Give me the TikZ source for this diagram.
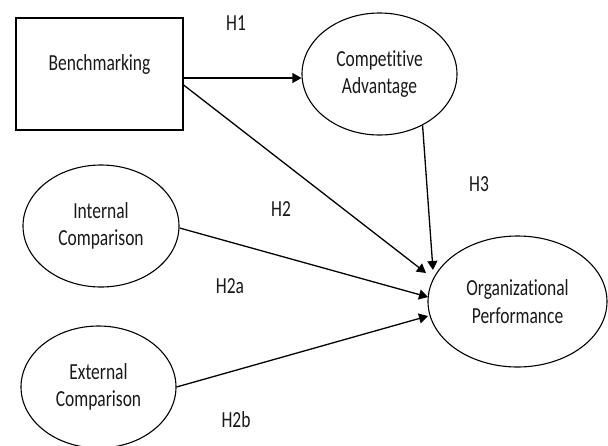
\documentclass[tikz,border=0pt]{standalone}
\usepackage{fontspec}
\setmainfont[FakeStretch=0.76,Ligatures={NoCommon}]{Carlito}
\usetikzlibrary{shapes.geometric,arrows.meta}
\begin{document}
\begin{tikzpicture}[x=1pt,y=-1pt,
  every node/.style={font=\fontsize{23pt}{27.5pt}\selectfont, text=black!90},
  box/.style={draw, line width=1.2pt, rectangle, minimum width=167pt, minimum height=112pt, inner sep=0pt},
  oval/.style={draw, line width=1.1pt, ellipse, inner sep=0pt, align=center},
  arr/.style={line width=1.3pt, -{Triangle[length=9pt,width=10pt]}},
  lbl/.style={inner sep=0pt}]
\useasboundingbox (0,0) rectangle (608,445);
\node[box] (bm) at (99.5,74) {\raisebox{9.5pt}[\height][\depth]{Benchmarking}};
\node[oval, minimum width=155pt, minimum height=122pt] (ca) at (379.5,74) {Competitive\\Advantage};
\node[oval, minimum width=156pt, minimum height=122pt] (ic) at (101,226) {Internal\\Comparison};
\node[oval, minimum width=155pt, minimum height=122pt] (ec) at (98.5,387) {External\\Comparison};
\node[oval, minimum width=179pt, minimum height=131pt] (op) at (517.5,301.5) {Organizational\\Performance};
\node[lbl] (h1) at (236,23) {H1};
\node[lbl] (h2) at (281,209) {H2};
\node[lbl] (h3) at (479,184) {H3};
\node[lbl] (h2a) at (230,286) {H2a};
\node[lbl] (h2b) at (236,420) {H2b};
\draw[arr] ([yshift=-4pt]bm.east) -- ([yshift=-4pt]ca.west);
\draw[arr] ([yshift=-11pt]bm.east) -- ([xshift=-91.5pt,yshift=28.5pt]op.center);
\draw[arr] (ca.-50) -- ([xshift=-84.5pt,yshift=31.5pt]op.center);
\draw[arr] ([yshift=-2pt]ic.east) -- ([xshift=-89.5pt,yshift=4.5pt]op.center);
\draw[arr] (ec.east) -- ([xshift=-89.5pt,yshift=-14.5pt]op.center);
\end{tikzpicture}
\end{document}
